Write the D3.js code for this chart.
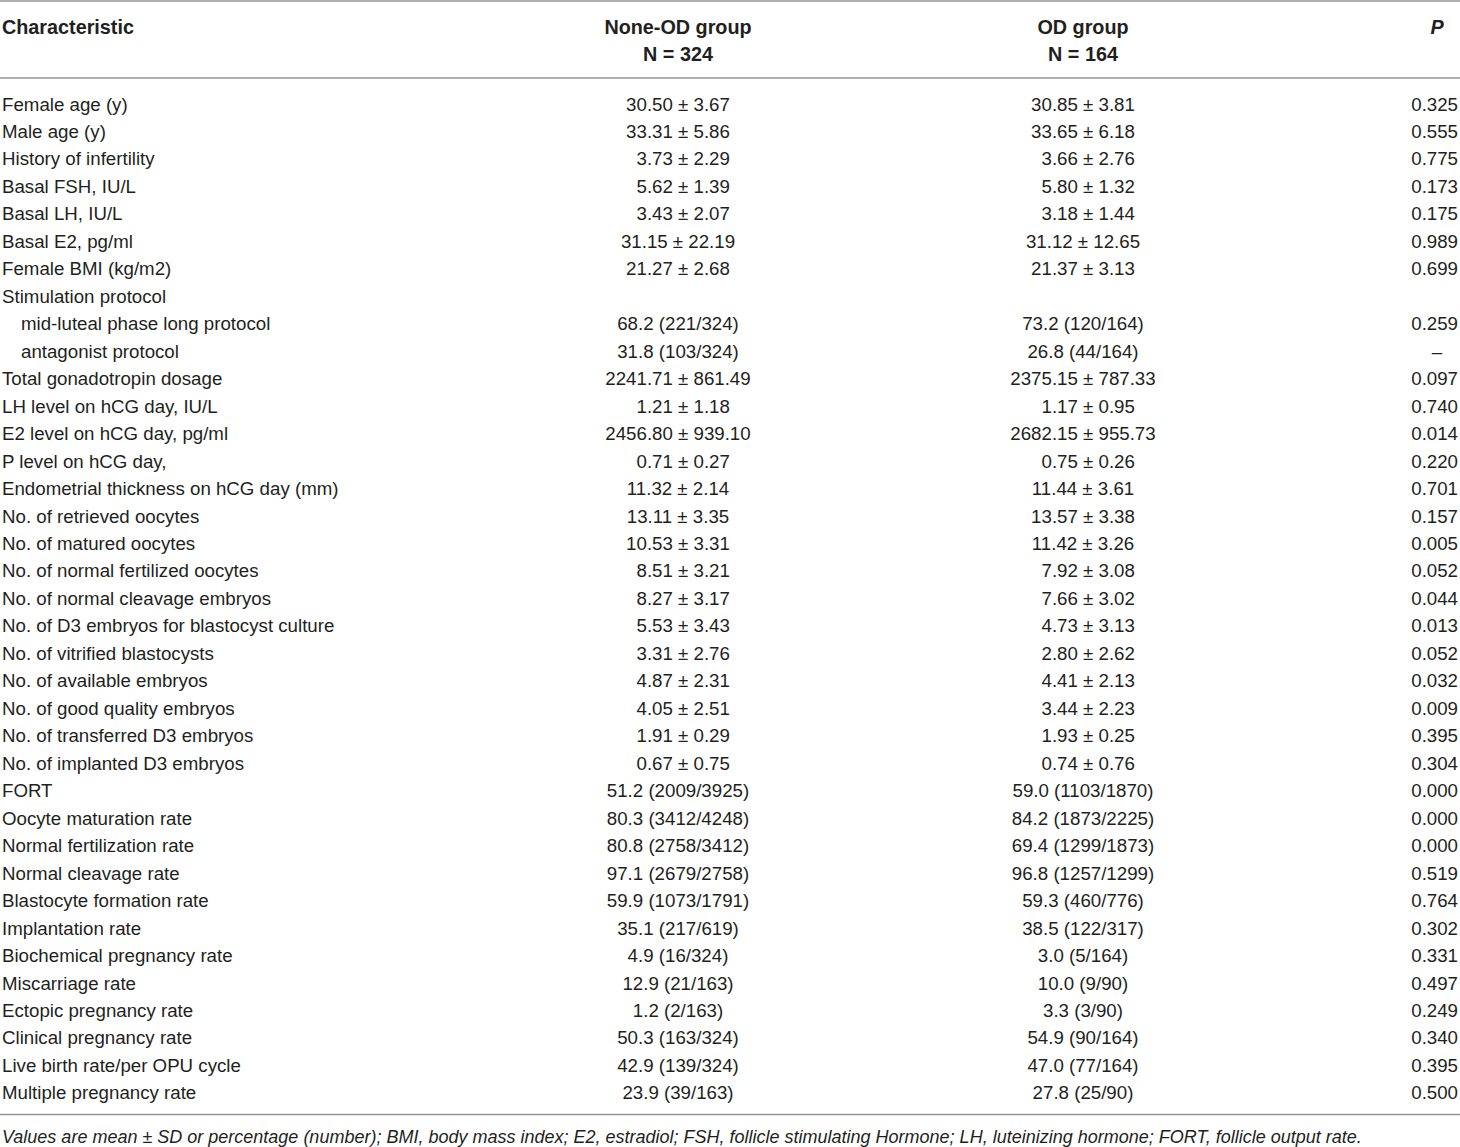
<!DOCTYPE html>
<html>
<head>
<meta charset="utf-8">
<script src="https://cdn.jsdelivr.net/npm/d3@7"></script>
<style>
  html, body { margin: 0; padding: 0; background: #fff; }
  svg text { font-family: "Liberation Sans", Arial, sans-serif; fill: #231f20; }
</style>
</head>
<body>
<div class="table"></div>
<script>

const characteristics = [
  "Female age (y)", "Male age (y)", "History of infertility", "Basal FSH, IU/L",
  "Basal LH, IU/L", "Basal E2, pg/ml", "Female BMI (kg/m2)", "Stimulation protocol",
  "mid-luteal phase long protocol", "antagonist protocol", "Total gonadotropin dosage",
  "LH level on hCG day, IU/L", "E2 level on hCG day, pg/ml", "P level on hCG day,",
  "Endometrial thickness on hCG day (mm)", "No. of retrieved oocytes", "No. of matured oocytes",
  "No. of normal fertilized oocytes", "No. of normal cleavage embryos",
  "No. of D3 embryos for blastocyst culture", "No. of vitrified blastocysts",
  "No. of available embryos", "No. of good quality embryos", "No. of transferred D3 embryos",
  "No. of implanted D3 embryos", "FORT", "Oocyte maturation rate", "Normal fertilization rate",
  "Normal cleavage rate", "Blastocyte formation rate", "Implantation rate",
  "Biochemical pregnancy rate", "Miscarriage rate", "Ectopic pregnancy rate",
  "Clinical pregnancy rate", "Live birth rate/per OPU cycle", "Multiple pregnancy rate"
];

// sub rows of "Stimulation protocol"
const indented = ["mid-luteal phase long protocol", "antagonist protocol"];

const noneOD = [
  "30.50 ± 3.67", "33.31 ± 5.86", "3.73 ± 2.29", "5.62 ± 1.39", "3.43 ± 2.07",
  "31.15 ± 22.19", "21.27 ± 2.68", "", "68.2 (221/324)", "31.8 (103/324)",
  "2241.71 ± 861.49", "1.21 ± 1.18", "2456.80 ± 939.10", "0.71 ± 0.27", "11.32 ± 2.14",
  "13.11 ± 3.35", "10.53 ± 3.31", "8.51 ± 3.21", "8.27 ± 3.17", "5.53 ± 3.43",
  "3.31 ± 2.76", "4.87 ± 2.31", "4.05 ± 2.51", "1.91 ± 0.29", "0.67 ± 0.75",
  "51.2 (2009/3925)", "80.3 (3412/4248)", "80.8 (2758/3412)", "97.1 (2679/2758)",
  "59.9 (1073/1791)", "35.1 (217/619)", "4.9 (16/324)", "12.9 (21/163)", "1.2 (2/163)",
  "50.3 (163/324)", "42.9 (139/324)", "23.9 (39/163)"
];

const od = [
  "30.85 ± 3.81", "33.65 ± 6.18", "3.66 ± 2.76", "5.80 ± 1.32", "3.18 ± 1.44",
  "31.12 ± 12.65", "21.37 ± 3.13", "", "73.2 (120/164)", "26.8 (44/164)",
  "2375.15 ± 787.33", "1.17 ± 0.95", "2682.15 ± 955.73", "0.75 ± 0.26", "11.44 ± 3.61",
  "13.57 ± 3.38", "11.42 ± 3.26", "7.92 ± 3.08", "7.66 ± 3.02", "4.73 ± 3.13",
  "2.80 ± 2.62", "4.41 ± 2.13", "3.44 ± 2.23", "1.93 ± 0.25", "0.74 ± 0.76",
  "59.0 (1103/1870)", "84.2 (1873/2225)", "69.4 (1299/1873)", "96.8 (1257/1299)",
  "59.3 (460/776)", "38.5 (122/317)", "3.0 (5/164)", "10.0 (9/90)", "3.3 (3/90)",
  "54.9 (90/164)", "47.0 (77/164)", "27.8 (25/90)"
];

const pValues = [
  "0.325", "0.555", "0.775", "0.173", "0.175", "0.989", "0.699", "", "0.259", "–",
  "0.097", "0.740", "0.014", "0.220", "0.701", "0.157", "0.005", "0.052", "0.044",
  "0.013", "0.052", "0.032", "0.009", "0.395", "0.304", "0.000", "0.000", "0.000",
  "0.519", "0.764", "0.302", "0.331", "0.497", "0.249", "0.340", "0.395", "0.500"
];

const headers = ["Characteristic", ["None-OD group", "N = 324"], ["OD group", "N = 164"], "P"];

const footnote = "Values are mean ± SD or percentage (number); BMI, body mass index; E2, estradiol; FSH, follicle stimulating Hormone; LH, luteinizing hormone; FORT, follicle output rate.";

const width = 1460;
const height = 1147;
const fontSize = 18.7;

const svg = d3.select(".table")
  .append("svg")
  .attr("width", width)
  .attr("height", height);

// column positions
const col = { label: 2, indent: 21, none: 678, od: 1083, pCenter: 1437, pRight: 1458 };

// row baselines
const y = d3.scalePoint()
  .domain(d3.range(characteristics.length))
  .range([110.5, 110.5 + 36 * 27.47]);

// single-digit means are padded with a figure space so they line up
function pad(s) {
  return /^\d\.\d+ ±/.test(s) ? "\u2007" + s : s;
}

// rules
const rules = [1, 78, 1114.5];
svg.append("g")
  .selectAll("line")
  .data(rules)
  .enter()
  .append("line")
    .attr("x1", 0)
    .attr("x2", width)
    .attr("y1", d => d)
    .attr("y2", d => d)
    .style("stroke", "#949494")
    .style("stroke-width", 1.6);

// header
const head = svg.append("g")
  .style("font-weight", "bold")
  .style("font-size", "19.8px");

head.append("text")
  .attr("x", col.label)
  .attr("y", 33.5)
  .text(headers[0]);

[[headers[1], col.none], [headers[2], col.od]].forEach(function (h) {
  head.append("text")
    .attr("x", h[1]).attr("y", 33.5)
    .attr("text-anchor", "middle")
    .text(h[0][0]);
  head.append("text")
    .attr("x", h[1]).attr("y", 60.5)
    .attr("text-anchor", "middle")
    .text(h[0][1]);
});

head.append("text")
  .attr("x", col.pCenter)
  .attr("y", 33.5)
  .attr("text-anchor", "middle")
  .style("font-style", "italic")
  .text(headers[3]);

// body rows
const body = svg.append("g").style("font-size", fontSize + "px");

body.selectAll("text.label")
  .data(characteristics)
  .enter()
  .append("text")
    .attr("class", "label")
    .attr("x", d => indented.includes(d) ? col.indent : col.label)
    .attr("y", (d, i) => y(i))
    .text(d => d);

body.selectAll("text.none")
  .data(noneOD)
  .enter()
  .append("text")
    .attr("class", "none")
    .attr("x", col.none)
    .attr("y", (d, i) => y(i))
    .attr("text-anchor", "middle")
    .style("white-space", "pre")
    .text(d => pad(d));

body.selectAll("text.od")
  .data(od)
  .enter()
  .append("text")
    .attr("class", "od")
    .attr("x", col.od)
    .attr("y", (d, i) => y(i))
    .attr("text-anchor", "middle")
    .style("white-space", "pre")
    .text(d => pad(d));

body.selectAll("text.p")
  .data(pValues)
  .enter()
  .append("text")
    .attr("class", "p")
    .attr("x", d => d === "–" ? col.pCenter : col.pRight)
    .attr("y", (d, i) => y(i))
    .attr("text-anchor", d => d === "–" ? "middle" : "end")
    .text(d => d);

// footnote
svg.append("text")
  .attr("x", col.label)
  .attr("y", 1143)
  .style("font-size", "18px")
  .style("font-style", "italic")
  .text(footnote);

</script>
</body>
</html>
